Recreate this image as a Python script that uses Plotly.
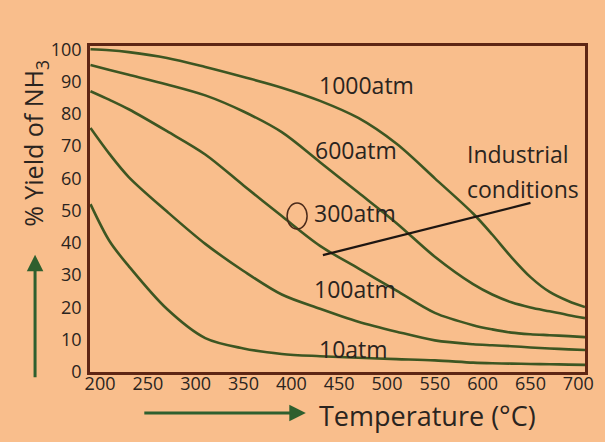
import plotly.graph_objects as go

# Temperature grid (°C) and % yield of NH3 at each pressure
temps = [190, 210, 230, 270, 310, 350, 390, 430, 470, 510, 550, 590, 610, 630, 650, 670, 690, 707]
yield_1000 = [100, 99.7, 99.1, 97.3, 94.5, 91.4, 88.1, 84.0, 78.7, 70.7, 60.0, 49.1, 42.6, 35.6, 29.4, 24.8, 21.9, 20.1]
yield_600 = [95.1, 93.6, 92.1, 89.1, 85.7, 80.7, 74.3, 65.0, 55.6, 46.1, 35.7, 27.2, 24.0, 21.6, 20.0, 18.8, 17.6, 16.7]
yield_300 = [87.0, 84.3, 81.4, 74.6, 67.4, 57.8, 48.3, 39.1, 32.1, 25.2, 18.3, 14.5, 13.2, 12.2, 11.7, 11.4, 11.1, 10.8]
yield_100 = [75.6, 67.5, 60.4, 49.7, 39.7, 31.3, 24.0, 19.6, 15.6, 12.5, 9.8, 8.6, 8.3, 8.0, 7.6, 7.3, 7.0, 6.8]
yield_10 = [52.0, 40.5, 32.8, 19.5, 10.5, 7.3, 5.6, 4.9, 4.4, 4.0, 3.6, 2.9, 2.7, 2.6, 2.5, 2.4, 2.3, 2.2]

series = [yield_1000, yield_600, yield_300, yield_100, yield_10]

# Curve labels: text, temperature, yield
curve_labels = ["1000atm", "600atm", "300atm", "100atm", "10atm"]
label_temps = [427, 423, 422, 422, 427]
label_yields = [88.9, 68.8, 49.3, 25.7, 7.1]

# Pointer line for the industrial operating point
industrial_temps = [433, 650]
industrial_yields = [36.2, 52.4]
industrial_text = ["Industrial", "conditions"]
industrial_text_temp = 582
industrial_text_yields = [67.5, 56.7]

# Small ring drawn beside the 300atm label
ring_temp = 406
ring_yield = 48.3

x_ticks = [200, 250, 300, 350, 400, 450, 500, 550, 600, 650, 700]
y_ticks = [0, 10, 20, 30, 40, 50, 60, 70, 80, 90, 100]

BG = "#F9BE8C"
FRAME = "#5E2614"
CURVE = "#3D5622"
ARROW = "#2E5F2E"
TEXT = "#2A2420"
FONT = "Open Sans"

fig = go.Figure()

for ys in series:
    fig.add_trace(go.Scatter(
        x=temps, y=ys, mode="lines",
        line=dict(color=CURVE, width=2.6, shape="spline", smoothing=0.9),
        hoverinfo="skip",
    ))

fig.add_trace(go.Scatter(
    x=industrial_temps, y=industrial_yields, mode="lines",
    line=dict(color="#1E1612", width=2.2), hoverinfo="skip",
))

annotations = []
for txt, tx, ty in zip(curve_labels, label_temps, label_yields):
    annotations.append(dict(
        x=tx, y=ty, xref="x", yref="y", text=txt, showarrow=False,
        xanchor="left", yanchor="middle",
        font=dict(family=FONT, size=23, color=TEXT),
    ))
for txt, ty in zip(industrial_text, industrial_text_yields):
    annotations.append(dict(
        x=industrial_text_temp, y=ty, xref="x", yref="y", text=txt,
        showarrow=False, xanchor="left", yanchor="middle",
        font=dict(family=FONT, size=23, color=TEXT),
    ))

# Axis titles with their direction arrows
annotations.append(dict(
    x=-0.111, y=0.70, xref="paper", yref="paper",
    text="% Yield of NH<sub>3</sub>", textangle=-90, showarrow=False,
    xanchor="center", yanchor="middle",
    font=dict(family=FONT, size=25, color=TEXT),
))
annotations.append(dict(
    x=-0.111, y=0.36, xref="paper", yref="paper", text="",
    showarrow=True, ax=0, ay=124, axref="pixel", ayref="pixel",
    arrowhead=2, arrowsize=1.1, arrowwidth=3, arrowcolor=ARROW,
))
annotations.append(dict(
    x=0.681, y=-0.134, xref="paper", yref="paper",
    text="Temperature (°C)", showarrow=False,
    xanchor="center", yanchor="middle",
    font=dict(family=FONT, size=27, color=TEXT),
))
annotations.append(dict(
    x=0.436, y=-0.126, xref="paper", yref="paper", text="",
    showarrow=True, ax=-163, ay=0, axref="pixel", ayref="pixel",
    arrowhead=2, arrowsize=1.1, arrowwidth=3, arrowcolor=ARROW,
))

shapes = [dict(
    type="circle", xref="x", yref="y", xsizemode="pixel", ysizemode="pixel",
    xanchor=ring_temp, yanchor=ring_yield, x0=-10, x1=10, y0=-13, y1=13,
    line=dict(color="#4A2A1A", width=1.5),
)]

axis_common = dict(
    showgrid=False, zeroline=False, showline=True, mirror=True,
    linecolor=FRAME, linewidth=2.6, ticks="",
    tickfont=dict(family=FONT, size=18, color=TEXT),
)

fig.update_layout(
    width=605, height=442,
    margin=dict(l=90, r=20, t=46, b=70),
    paper_bgcolor=BG, plot_bgcolor=BG,
    showlegend=False,
    xaxis=dict(range=[189.5, 707], tickvals=x_ticks, ticklabelstandoff=-6, **axis_common),
    yaxis=dict(range=[0, 101], tickvals=y_ticks, ticklabelstandoff=2, **axis_common),
    annotations=annotations,
    shapes=shapes,
)

fig.write_html("out.html")
